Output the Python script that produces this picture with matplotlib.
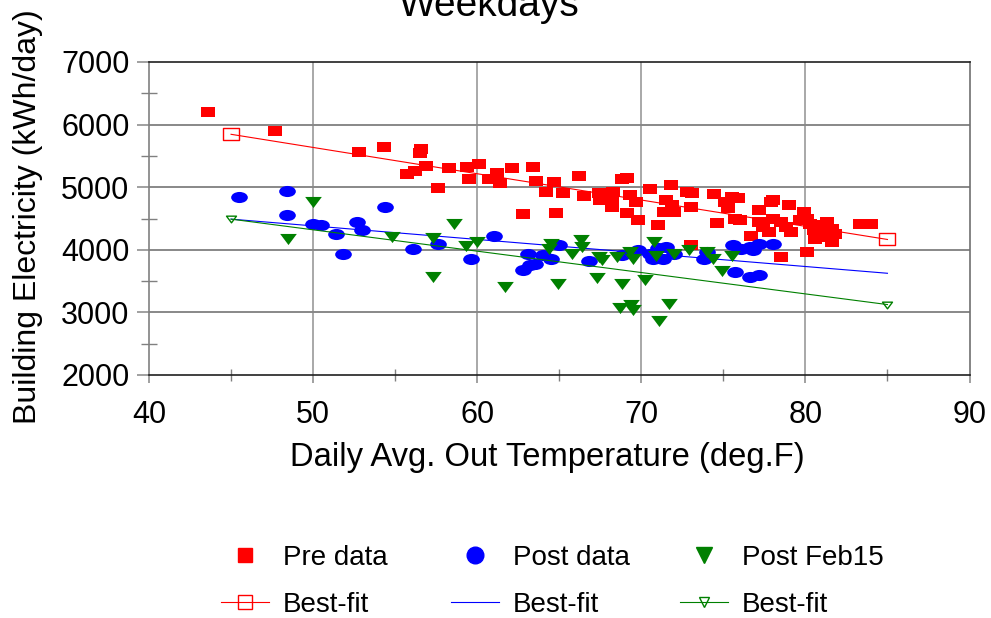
import numpy as np
import matplotlib
matplotlib.use("Agg")
import matplotlib.pyplot as plt
from matplotlib.path import Path
from matplotlib.lines import Line2D
from matplotlib.ticker import MultipleLocator

plt.rcParams['font.family'] = ['Liberation Sans', 'DejaVu Sans']

# ---------------- data ----------------
pre_temp = [43.6, 47.7, 52.8, 54.3, 56.6, 56.5, 56.9, 55.7, 56.2, 58.3, 57.6, 59.4, 59.5, 60.1,
            61.2, 60.7, 61.4, 62.1, 63.4, 63.6, 64.7, 64.2, 65.2, 62.8, 64.8, 66.2, 66.5, 67.4,
            67.5, 68.2, 68.3, 68.2, 68.8, 69.1, 69.3, 69.7, 69.1, 69.8, 70.5, 71.0, 71.8, 71.5,
            71.4, 71.9, 72.0, 72.8, 73.1, 73.0, 73.0, 74.4, 74.6, 75.1, 75.5, 75.9, 75.3, 75.7,
            76.0, 76.7, 77.2, 77.9, 78.0, 79.0, 77.2, 77.4, 77.8, 78.0, 78.5, 78.8, 79.1, 78.5,
            79.9, 80.1, 79.7, 80.3, 80.5, 80.1, 80.8, 81.3, 81.6, 81.0, 81.5, 81.8, 81.6, 83.3,
            84.0, 80.6, 81.2]
pre_elec = [6200, 5890, 5560, 5650, 5610, 5540, 5340, 5210, 5260, 5300, 4990, 5330, 5130, 5370,
            5220, 5130, 5070, 5300, 5330, 5100, 5080, 4930, 4910, 4570, 4580, 5180, 4860, 4910,
            4800, 4770, 4920, 4680, 5130, 5140, 4880, 4770, 4580, 4480, 4970, 4390, 5040, 4800,
            4610, 4720, 4600, 4930, 4910, 4690, 4080, 4890, 4430, 4770, 4850, 4820, 4660, 4490,
            4480, 4220, 4630, 4770, 4800, 4720, 4450, 4370, 4290, 4500, 4450, 4370, 4290, 3880,
            4610, 4500, 4480, 4420, 4320, 3960, 4400, 4450, 4340, 4210, 4210, 4260, 4130, 4420,
            4420, 4180, 4320]

post_temp = [45.5, 48.4, 48.4, 50.0, 50.5, 51.4, 51.8, 52.7, 53.0, 54.4, 56.1, 57.6, 59.6, 61.0,
             63.1, 63.5, 62.8, 64.0, 64.5, 65.0, 63.2, 66.8, 68.8, 69.8, 70.5, 70.7, 71.5, 71.3,
             72.0, 73.8, 74.0, 75.6, 76.1, 76.8, 77.2, 78.0, 76.6, 75.7, 76.6, 77.2, 71.0]
post_elec = [4840, 4940, 4560, 4420, 4400, 4250, 3940, 4450, 4320, 4690, 4020, 4100, 3850, 4220,
             3940, 3780, 3680, 3920, 3850, 4070, 3760, 3820, 3920, 4000, 3940, 3860, 4050, 3860,
             3940, 3860, 3960, 4080, 4020, 4000, 4100, 4090, 4050, 3640, 3570, 3600, 4030]

feb_temp = [50.0, 48.5, 54.8, 57.3, 57.3, 58.6, 59.3, 60.0, 61.7, 64.5, 64.9, 64.4, 65.8, 66.3,
            66.4, 67.4, 67.6, 67.3, 68.5, 68.8, 68.7, 69.4, 69.5, 69.3, 69.5, 70.2, 70.8, 70.9,
            71.1, 71.7, 72.0, 72.9, 74.0, 74.35, 74.9, 75.5]
feb_elec = [4770, 4170, 4200, 4190, 3560, 4420, 4060, 4130, 3400, 4090, 3450, 4010, 3940, 4160,
            4050, 3890, 3840, 3550, 3890, 3460, 3070, 3120, 3040, 3970, 3860, 3520, 4130, 3900,
            2870, 3130, 3940, 4000, 3960, 3860, 3660, 3900]

fit_temp = [45, 85]
pre_fit = [5845, 4165]
post_fit = [4490, 3625]
feb_fit = [4490, 3125]

x_ticks = [40, 50, 60, 70, 80, 90]
y_ticks = [2000, 3000, 4000, 5000, 6000, 7000]

# ---------------- markers (horizontally stretched as in reference) ----------------
rect_m = Path([(-1.5, -1), (1.5, -1), (1.5, 1), (-1.5, 1), (-1.5, -1)],
              [Path.MOVETO, Path.LINETO, Path.LINETO, Path.LINETO, Path.CLOSEPOLY])
uc = Path.unit_circle()
ell_m = Path(uc.vertices * np.array([1.5, 1.0]), uc.codes)
tri_m = Path([(-1.5, 1), (1.5, 1), (0, -1), (-1.5, 1)],
             [Path.MOVETO, Path.LINETO, Path.LINETO, Path.CLOSEPOLY])

RED, BLUE, GREEN = '#ff0000', '#0000ff', '#008000'

fig = plt.figure(figsize=(9.91, 6.18), dpi=100)
ax = fig.add_axes([149 / 991, 1 - 375 / 618, 820.5 / 991, 313 / 618])

ax.plot(pre_temp, pre_elec, ls='none', marker=rect_m, ms=9.8, mfc=RED, mec=RED, mew=0, zorder=3)
ax.plot(fit_temp, pre_fit, color=RED, lw=0.8, marker=rect_m, ms=12, mfc='none', mec=RED, mew=1.0, zorder=4)
ax.plot(post_temp, post_elec, ls='none', marker=ell_m, ms=12, mfc=BLUE, mec=BLUE, mew=0, zorder=5)
ax.plot(fit_temp, post_fit, color=BLUE, lw=0.8, zorder=6)
ax.plot(feb_temp, feb_elec, ls='none', marker=tri_m, ms=12, mfc=GREEN, mec=GREEN, mew=0, zorder=7)
ax.plot(fit_temp, feb_fit, color=GREEN, lw=0.8, marker=tri_m, ms=7.2, mfc='none', mec=GREEN, mew=1.0, zorder=8)

ax.set_xlim(40, 90)
ax.set_ylim(2000, 7000)
ax.set_xticks(x_ticks)
ax.set_yticks(y_ticks)
ax.xaxis.set_minor_locator(MultipleLocator(5))
ax.yaxis.set_minor_locator(MultipleLocator(500))

ax.grid(False)
for v in x_ticks[1:-1]:
    ax.axvline(v, color='#a8a8a8', lw=1.4, zorder=1)
for v in y_ticks[1:-1]:
    ax.axhline(v, color='#888888', lw=1.4, zorder=1)

ax.tick_params(axis='both', which='major', labelsize=22, color='#909090', width=1.2)
ax.tick_params(axis='x', which='major', direction='out', length=6, pad=12)
ax.tick_params(axis='y', which='major', direction='out', length=9, pad=5)
ax.tick_params(axis='x', which='minor', direction='inout', length=8, color='#808080', width=1.0)
ax.tick_params(axis='y', which='minor', direction='inout', length=11.5, color='#808080', width=1.0)

ax.spines['left'].set_color('#808080')
ax.spines['right'].set_color('#707070')
ax.spines['top'].set_color('#202020')
ax.spines['bottom'].set_color('#202020')
for s in ax.spines.values():
    s.set_linewidth(1.2)

fig.text(489 / 991, 1 - 16 / 618, 'Weekdays', ha='center', va='baseline', fontsize=28)
fig.text(547 / 991, 1 - 466 / 618, 'Daily Avg. Out Temperature (deg.F)', ha='center',
         va='baseline', fontsize=23.6)
fig.text(28 / 991, 1 - 217 / 618, 'Building Electricity (kWh/day)', ha='center', va='center',
         rotation=90, fontsize=23)

# ---------------- legend: three columns placed individually ----------------
cols = [
    (Line2D([], [], ls='none', marker='s', ms=9.5, color=RED), 'Pre data',
     Line2D([], [], color=RED, lw=0.8, marker='s', ms=10, mfc='none', mec=RED), 'Best-fit', 221),
    (Line2D([], [], ls='none', marker='o', ms=12, color=BLUE), 'Post data',
     Line2D([], [], color=BLUE, lw=0.8), 'Best-fit', 451),
    (Line2D([], [], ls='none', marker='v', ms=11, color=GREEN), 'Post Feb15',
     Line2D([], [], color=GREEN, lw=0.8, marker='v', ms=7, mfc='none', mec=GREEN), 'Best-fit', 680),
]
for h1, l1, h2, l2, xpx in cols:
    fig.legend([h1, h2], [l1, l2], loc='upper left', bbox_to_anchor=(xpx / 991, 1 - 545 / 618),
               frameon=False, fontsize=20, borderpad=0, borderaxespad=0, handlelength=1.72,
               handletextpad=0.5, labelspacing=0.74)

fig.savefig('out.png', dpi=100)
